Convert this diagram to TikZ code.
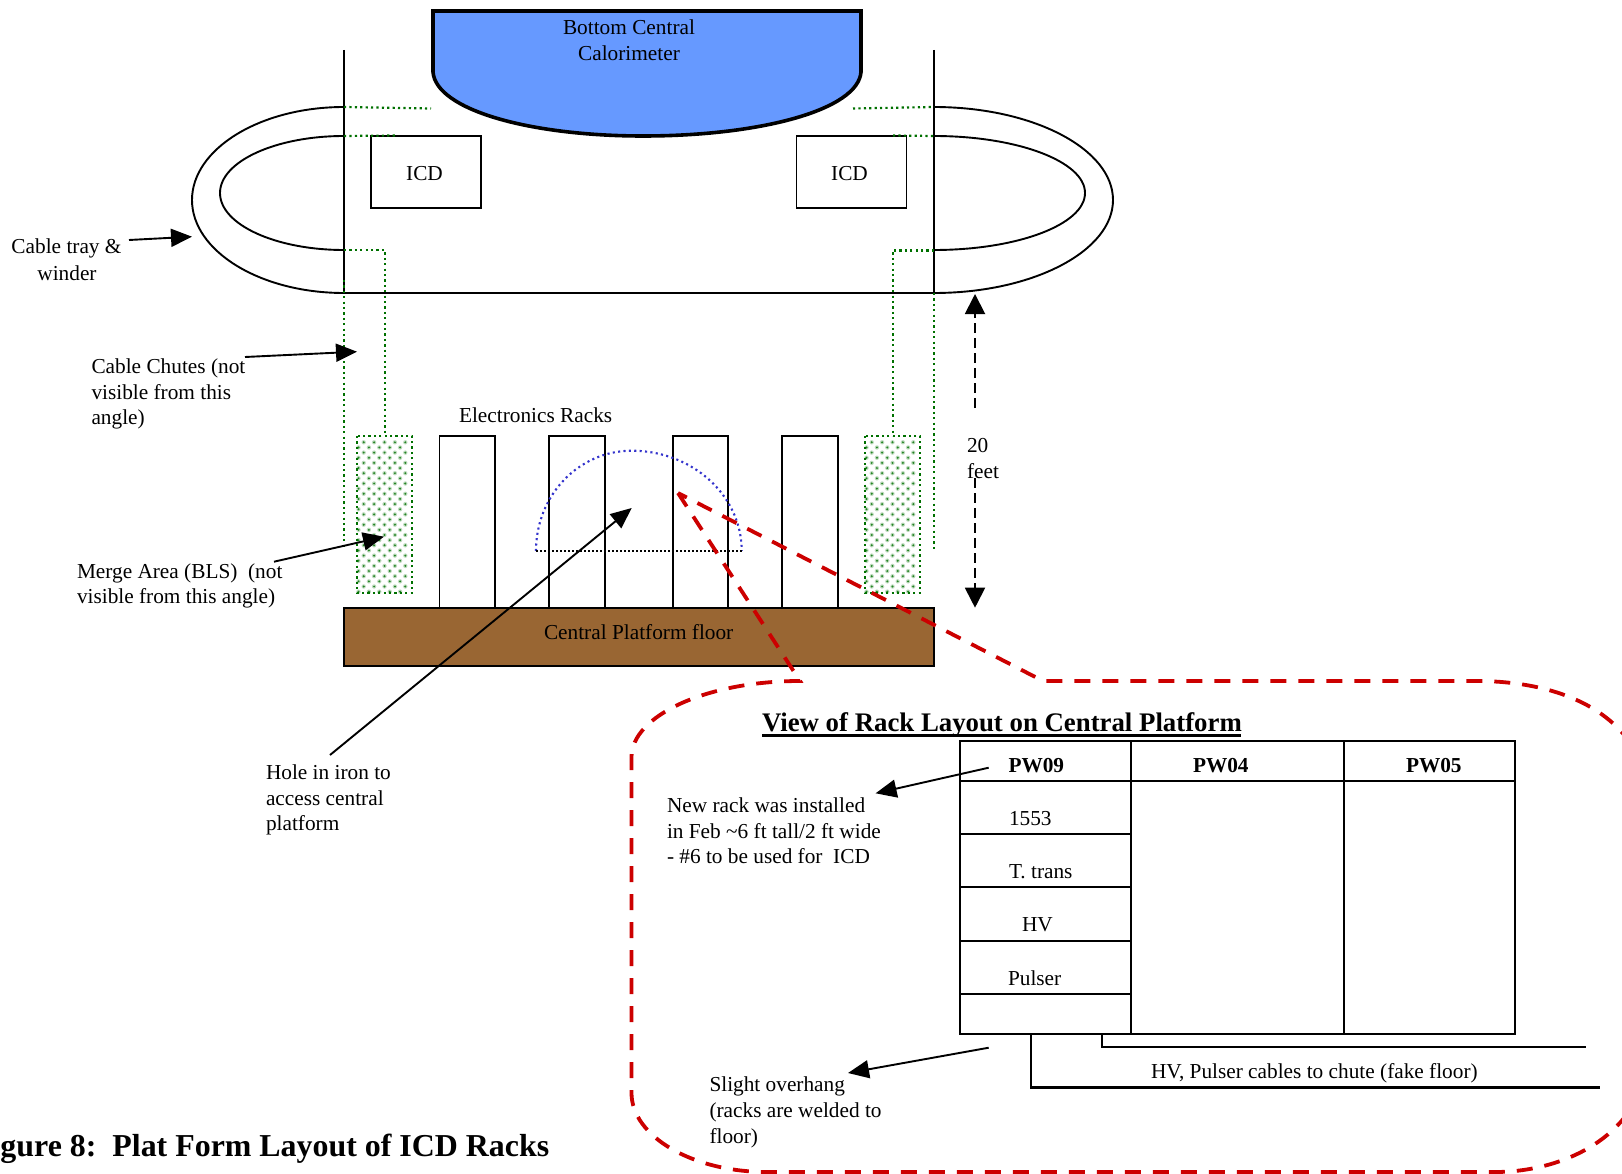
\documentclass[tikz,border=0pt]{standalone}
\usepackage{fontspec}
\setmainfont{Liberation Serif}
\usetikzlibrary{arrows.meta}
\definecolor{calblue}{HTML}{6699FF}
\definecolor{floorbrown}{HTML}{996633}
\definecolor{chutegreen}{HTML}{007000}
\definecolor{dashred}{HTML}{CC0000}
\definecolor{arcblue}{HTML}{3333CC}
\tikzset{
  x=1pt,y=-1pt,
  line/.style={draw=black,line width=1.9pt},
  lbl/.style={anchor=base west,inner sep=0pt,outer sep=0pt,font=\fontsize{21.3}{25.5}\selectfont},
  blbl/.style={lbl,font=\fontsize{21.3}{25.5}\selectfont\bfseries},
  boxnode/.style={draw=black,line width=1.9pt,inner sep=0pt,minimum width=#1},
  greendot/.style={draw=chutegreen,line width=2.2pt,dash pattern=on 2.2pt off 3.2pt},
  pointer/.style={line,-{Triangle[length=21pt,width=18pt]}},
  reddash/.style={draw=dashred,line width=3.8pt,dash pattern=on 16pt off 12pt,miter limit=20},
}
\newcommand{\mergedots}[1]{%
  \foreach \rowi in {0,...,29}{
    \foreach \coli in {0,...,4}{
      \pgfmathsetmacro{\dotx}{#1+6.7+\coli*10.4-mod(\rowi,2)*5.2}
      \pgfmathsetmacro{\doty}{442.3+\rowi*5.15}
      \fill[chutegreen!25] (\dotx,\doty) circle (2.2pt);
      \fill[chutegreen!85] (\dotx,\doty) circle (1.1pt);
    }
  }}
\begin{document}
\begin{tikzpicture}
\useasboundingbox (0,0) rectangle (1622,1174);
\clip (0,0) rectangle (1622,1174);
% calorimeter
\draw[fill=calblue,draw=black,line width=3.6pt]
  (433,11) -- (861,11) -- (861,72) .. controls (858,110) and (760,136) .. (643,136)
  .. controls (530,136) and (436,110) .. (433,72) -- cycle;
\node[lbl,anchor=base] (calA) at (629,35) {Bottom Central};
\node[lbl,anchor=base] (calB) at (629,61) {Calorimeter};
% walls
\draw[line] (344,50) -- (344,293) -- (934,293);
\draw[line] (934,50) -- (934,293);
% winder
\draw[line] (344,107) .. controls (260,107) and (192,149) .. (192,200) .. controls (192,251) and (260,293) .. (344,293);
\draw[line] (344,136) .. controls (275.5,136) and (220,161.5) .. (220,193) .. controls (220,224.5) and (275.5,250) .. (344,250);
\draw[line] (934,107) .. controls (1033,107) and (1113,149) .. (1113,200) .. controls (1113,251) and (1033,293) .. (934,293);
\draw[line] (934,136) .. controls (1017.4,136) and (1085,161.5) .. (1085,193) .. controls (1085,224.5) and (1017.4,250) .. (934,250);
% ICD
\node[boxnode=110pt,minimum height=72pt] (icdL) at (426,172) {};
\node[boxnode=110pt,minimum height=72pt] (icdR) at (851.5,172) {};
\node[lbl,anchor=base] (icdLt) at (424.5,181) {ICD};
\node[lbl,anchor=base] (icdRt) at (849.5,181) {ICD};
% green dotted
\draw[greendot] (344,107) -- (431,108.5);
\draw[greendot] (853,108.5) -- (934,107);
\draw[greendot] (344,136) -- (396,135.5);
\draw[greendot] (893,135.5) -- (934,136);
\draw[greendot] (344,250) -- (384.7,250) -- (384.7,436);
\draw[greendot] (934,250.5) -- (892.7,250.5) -- (892.7,436);
\draw[greendot] (344,280) -- (344,548);
\draw[greendot] (934,293) -- (934,552);
% merge areas
\mergedots{357}
\mergedots{865}
\draw[greendot] (357,436) rectangle (412,593);
\draw[greendot] (865,436) rectangle (920,593);
% racks
\foreach \n/\x in {a/467.2,b/577,c/700.5,d/810}{
  \node[boxnode=55.5pt,minimum height=172pt] (rack\n) at (\x,522) {};
}
% floor
\node[boxnode=590pt,minimum height=57.7pt,fill=floorbrown] (floor) at (639,636.9) {};
\node[lbl] (floorlbl) at (544,639.5) {Central Platform floor};
% hole
\draw[draw=arcblue,line width=2.1pt,dash pattern=on 2.1pt off 3.3pt]
  (536,551) .. controls (536,495) and (579,450.7) .. (631.7,450.7) .. controls (692,450.7) and (741.7,495) .. (741.7,551);
\draw[line width=1.6pt,dash pattern=on 1.6pt off 2.4pt] (536,551) -- (741.7,551);
% labels
\node[lbl,anchor=base] (trayA) at (66.5,254) {Cable tray \&};
\node[lbl,anchor=base] (trayB) at (67,280) {winder};
\node[lbl] (chA) at (91.5,373) {Cable Chutes (not};
\node[lbl] (chB) at (91.5,399) {visible from this};
\node[lbl] (chC) at (91.5,424) {angle)};
\node[lbl] (racks) at (459,422) {Electronics Racks};
\node[lbl] (ft20) at (967,452) {20};
\node[lbl] (ftfeet) at (967,478) {feet};
\node[lbl] (mgA) at (77,578) {Merge Area (BLS)\ \ (not};
\node[lbl] (mgB) at (77,603) {visible from this angle)};
\node[lbl] (hiA) at (266,779) {Hole in iron to};
\node[lbl] (hiB) at (266,805) {access central};
\node[lbl] (hiC) at (266,830) {platform};
% pointer arrows
\coordinate (trayS) at (129,240); \coordinate (trayT) at (192,236.7);
\draw[pointer] (trayS) -- (trayT);
\coordinate (chS) at (245,357); \coordinate (chT) at (357,351.7);
\draw[pointer] (chS) -- (chT);
\coordinate (mgS) at (274,561.7); \coordinate (mgT) at (384,536.7);
\draw[pointer] (mgS) -- (mgT);
\coordinate (hiS) at (330,755); \coordinate (hiT) at (631.7,508);
\draw[pointer] (hiS) -- (hiT);
% 20 feet
\coordinate (upT) at (975,294); \coordinate (upS) at (975,408);
\coordinate (dnT) at (975,607.7); \coordinate (dnS) at (975,478);
\draw[draw=black,line width=1.9pt,dash pattern=on 10pt off 5pt,-{Triangle[length=20pt,width=20pt,sep=0pt]}] (upS) -- (upT);
\draw[draw=black,line width=1.9pt,dash pattern=on 10pt off 5pt,-{Triangle[length=20pt,width=20pt,sep=0pt]}] (dnS) -- (dnT);
% callout
\draw[reddash,line join=miter]
  (678,493) -- (800,681) .. controls (706,681) and (631.5,716) .. (631.5,757)
  -- (631.5,1093) .. controls (631.5,1136) and (692,1172) .. (767,1172)
  -- (1495,1172) .. controls (1560,1172) and (1630,1140) .. (1645,1075)
  -- (1640,760) .. controls (1615,705) and (1550,681) .. (1476,681)
  -- (1043,681) -- cycle;
% table
\node[lbl,font=\fontsize{26.8}{30}\selectfont\bfseries] (title) at (762,731.7) {View of Rack Layout on Central Platform};
\coordinate (ulA) at (762,735.2); \coordinate (ulB) at (1241,735.2);
\draw[line width=2.8pt] (ulA) -- (ulB);
\draw[line,line width=2.1pt] (960,741.3) rectangle (1514.6,1033.7);
\draw[line,line width=2.1pt] (1131,741.3) -- (1131,1033.7);
\draw[line,line width=2.1pt] (1344,741.3) -- (1344,1033.7);
\draw[line,line width=2.1pt] (960,781.3) -- (1514.6,781.3);
\foreach \y in {834,887.3,940.7,993.7}{\draw[line,line width=2.1pt] (960,\y) -- (1131,\y);}
\draw[line,line width=2.1pt] (1102.4,1033.7) -- (1102.4,1047) -- (1586,1047);
\draw[line,line width=2.1pt] (1031,1033.7) -- (1031,1087.5) -- (1600,1087.5);
\node[blbl] (pw09) at (1008.5,772.5) {PW09};
\node[blbl] (pw04) at (1193,772.5) {PW04};
\node[blbl] (pw05) at (1406,772.5) {PW05};
\node[lbl] (r1) at (1009,825) {1553};
\node[lbl] (r2) at (1009,878) {T. trans};
\node[lbl] (r3) at (1022,931) {HV};
\node[lbl] (r4) at (1008,985) {Pulser};
\node[lbl] (cables) at (1151,1078) {HV, Pulser cables to chute (fake floor)};
\node[lbl] (nrA) at (667,812) {New rack was installed};
\node[lbl] (nrB) at (667,838) {in Feb \textasciitilde 6 ft tall/2 ft wide};
\node[lbl] (nrC) at (667,863) {- \#6 to be used for\ \ ICD};
\node[lbl] (ohA) at (709.5,1091.7) {Slight overhang};
\node[lbl] (ohB) at (709.5,1117) {(racks are welded to};
\node[lbl] (ohC) at (709.5,1143) {floor)};
\coordinate (nrS) at (988.7,767.7); \coordinate (nrT) at (875.6,793.3);
\draw[pointer] (nrS) -- (nrT);
\coordinate (ohS) at (988.7,1047.7); \coordinate (ohT) at (848,1073);
\draw[pointer] (ohS) -- (ohT);
% caption
\node[lbl,anchor=base west,font=\fontsize{31.9}{36}\selectfont\bfseries] (caption) at (0.5,1156) {gure 8:\ \ Plat Form Layout of ICD Racks};
\end{tikzpicture}
\end{document}
